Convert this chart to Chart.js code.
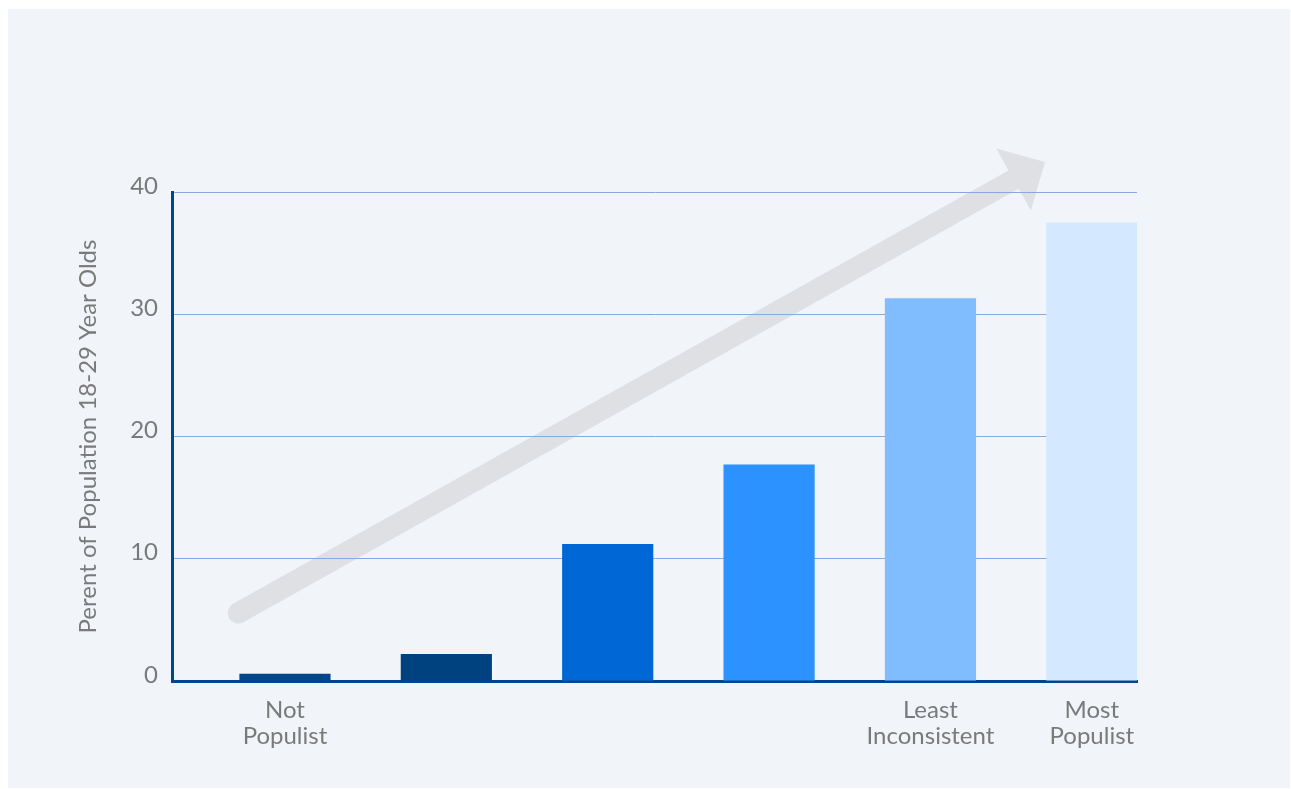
<!DOCTYPE html>
<html>
<head>
<meta charset="utf-8">
<script src="https://cdn.jsdelivr.net/npm/chart.js@4"></script>
<style>
  body { margin: 0; background: #ffffff; }
  .panel { position: absolute; left: 8px; top: 9px; width: 1282px; height: 779px; background: #f1f4f9; }
</style>
</head>
<body>
<div class="panel"><canvas id="myChart" width="1282" height="779"></canvas></div>
<script>
// populism score groups, left (not populist) to right (most populist)
const positions = [0, 1, 2, 3, 4, 5];
const values = [0.6, 2.2, 11.2, 17.7, 31.3, 37.5];
const tickLabels = [["Not", "Populist"], "", "", "", ["Least", "Inconsistent"], ["Most", "Populist"]];
const barColors = ["#00468b", "#00417f", "#0068d6", "#2b92ff", "#80bdff", "#d4e8ff"];
const yTicks = [0, 10, 20, 30, 40];

const points = positions.map((p, i) => ({ x: p, y: values[i] }));

// big grey trend arrow behind the grid
const trendArrow = {
  id: "trendArrow",
  beforeDraw(chart, args, opts) {
    const { ctx, scales } = chart;
    const x0 = scales.x.getPixelForValue(opts.from[0]);
    const y0 = scales.y.getPixelForValue(opts.from[1]);
    const x1 = scales.x.getPixelForValue(opts.to[0]);
    const y1 = scales.y.getPixelForValue(opts.to[1]);
    const len = Math.hypot(x1 - x0, y1 - y0);
    const ux = (x1 - x0) / len, uy = (y1 - y0) / len;
    const bx = x1 - ux * opts.headLength, by = y1 - uy * opts.headLength;
    ctx.save();
    ctx.strokeStyle = opts.color;
    ctx.fillStyle = opts.color;
    ctx.lineWidth = opts.width;
    ctx.lineCap = "round";
    ctx.beginPath();
    ctx.moveTo(x0, y0);
    ctx.lineTo(bx + ux * 2, by + uy * 2);
    ctx.stroke();
    const hw = opts.headWidth / 2;
    ctx.beginPath();
    ctx.moveTo(x1, y1);
    ctx.lineTo(bx - uy * hw, by + ux * hw);
    ctx.lineTo(bx + uy * hw, by - ux * hw);
    ctx.closePath();
    ctx.fill();
    ctx.restore();
  },
};

const data = {
  datasets: [
    {
      data: points,
      backgroundColor: barColors,
      borderWidth: 0,
      categoryPercentage: 1,
      barPercentage: 0.565,
    },
  ],
};

const textFont = { family: "Lato", size: 24, lineHeight: 1.1 };

const config = {
  type: "bar",
  data: data,
  plugins: [trendArrow],
  options: {
    responsive: false,
    animation: false,
    layout: { padding: { left: 0, right: 153, top: 183, bottom: 0 } },
    plugins: {
      legend: { display: false },
      tooltip: { enabled: false },
      trendArrow: {
        from: [-0.29, 5.56],
        to: [4.71, 42.45],
        width: 21,
        headLength: 36,
        headWidth: 71,
        color: "#dfe0e4",
      },
    },
    scales: {
      x: {
        type: "linear",
        min: -0.7,
        max: 5.28,
        offset: false,
        grid: { display: false, offset: false, drawTicks: false },
        border: { display: true, color: "#00468b", width: 3 },
        ticks: {
          stepSize: 1,
          includeBounds: false,
          autoSkip: false,
          maxRotation: 0,
          padding: 16,
          color: "#7a7a7a",
          font: textFont,
          callback: (v) => (Number.isInteger(v) ? tickLabels[v] : ""),
        },
        afterFit: (scale) => { scale.height = 107; },
      },
      y: {
        min: 0,
        max: 40,
        grid: { color: "#86a9de", lineWidth: 1, drawTicks: false },
        border: { display: true, color: "#00468b", width: 3 },
        afterBuildTicks: (scale) => { scale.ticks = yTicks.map((v) => ({ value: v })); },
        ticks: {
          padding: 14,
          color: "#7a7a7a",
          // empty second line lifts the numbers a little above their grid line
          font: { family: "Lato", size: 24, lineHeight: "12px" },
          callback: (v) => [String(v), ""],
        },
        title: {
          display: true,
          text: "Perent of Population 18-29 Year Olds",
          color: "#7a7a7a",
          font: textFont,
          padding: { top: 67, bottom: 0 },
        },
        afterFit: (scale) => { scale.width = 164; },
      },
    },
  },
};

const myChart = new Chart(document.getElementById("myChart"), config);
</script>
</body>
</html>
